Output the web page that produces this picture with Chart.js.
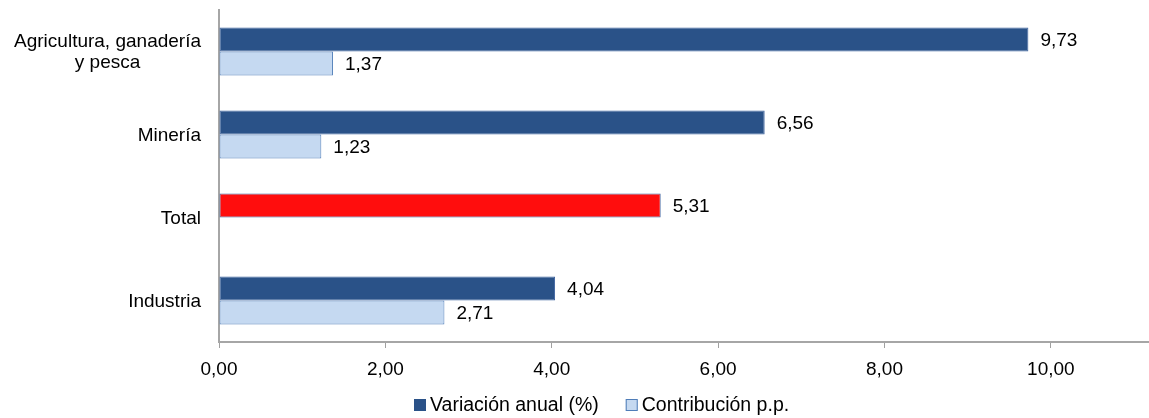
<!DOCTYPE html>
<html>
<head>
<meta charset="utf-8">
<script src="https://cdn.jsdelivr.net/npm/chart.js@4.4.0/dist/chart.umd.min.js"></script>
<style>
  html, body { margin: 0; padding: 0; background: #fff; }
  #wrap { width: 1149px; height: 418px; }
</style>
</head>
<body>
<div id="wrap"><canvas id="grafico"></canvas></div>
<script>
// datos del gráfico
const categorias = [['Agricultura, ganadería', 'y pesca'], 'Minería', 'Total', 'Industria'];
const variacionAnual = [9.73, 6.56, 5.31, 4.04];
const contribucion = [1.37, 1.23, null, 2.71];
const ticksX = [0, 2, 4, 6, 8, 10];

const fuente = "'Liberation Sans', Arial, sans-serif";
const formato = v => v.toFixed(2).replace('.', ',');

const azulOscuro = '#2A5288';
const azulClaro = '#C5D9F1';

// colores de la serie de variación (Total en rojo)
const coloresVariacion = categorias.map((c, i) => i === 2 ? '#FF0D0D' : azulOscuro);

// etiquetas del eje Y, valores al final de cada barra y leyenda
const etiquetasPlugin = {
    id: 'etiquetas',
    afterDatasetsDraw(chart) {
        const ctx = chart.ctx;
        ctx.save();
        ctx.font = '19px ' + fuente;
        ctx.fillStyle = '#000';
        ctx.textBaseline = 'middle';

        // valores
        chart.data.datasets.forEach((ds, i) => {
            chart.getDatasetMeta(i).data.forEach((bar, j) => {
                const v = ds.data[j];
                if (v === null) return;
                ctx.textAlign = 'left';
                ctx.fillText(formato(v), bar.x + 12, bar.y + 1);
            });
        });

        // categorias
        const y = chart.scales.y;
        const xDerecha = y.right - 18;
        categorias.forEach((c, i) => {
            const lineas = Array.isArray(c) ? c : [c];
            const yc = y.getPixelForTick(i) + 1;
            const alto = 21;
            const ancho = Math.max(...lineas.map(l => ctx.measureText(l).width));
            lineas.forEach((l, k) => {
                const yl = yc + (k - (lineas.length - 1) / 2) * alto;
                ctx.textAlign = 'center';
                ctx.fillText(l, xDerecha - ancho / 2, yl);
            });
        });

        // leyenda
        ctx.font = '19.5px ' + fuente;
        ctx.textAlign = 'left';
        const yLeyenda = 405;
        let x = 414;
        chart.data.datasets.forEach((ds, i) => {
            ctx.fillStyle = i === 0 ? azulOscuro : azulClaro;
            ctx.fillRect(x, yLeyenda - 6, 12, 12);
            ctx.strokeStyle = i === 0 ? azulOscuro : '#4F7DB8';
            ctx.lineWidth = 1;
            ctx.strokeRect(x + 0.5, yLeyenda - 5.5, 11, 11);
            ctx.fillStyle = '#000';
            ctx.fillText(ds.label, x + 16, yLeyenda + 1);
            x += 16 + ctx.measureText(ds.label).width + 27;
        });
        ctx.restore();
    }
};

new Chart(document.getElementById('grafico').getContext('2d'), {
    type: 'bar',
    data: {
        labels: categorias,
        datasets: [{
            label: 'Variación anual (%)',
            data: variacionAnual,
            backgroundColor: coloresVariacion,
            borderColor: '#3F64A0',
            borderWidth: 1,
            borderSkipped: false,
            categoryPercentage: 0.58,
            barPercentage: 1
        }, {
            label: 'Contribución p.p.',
            data: contribucion,
            backgroundColor: azulClaro,
            borderColor: '#4F7DB8',
            borderWidth: 1,
            borderSkipped: false,
            categoryPercentage: 0.58,
            barPercentage: 1
        }]
    },
    options: {
        indexAxis: 'y',
        responsive: true,
        maintainAspectRatio: false,
        animation: false,
        layout: { padding: { top: 10, right: 0, left: 0, bottom: 35 } },
        scales: {
            x: {
                min: 0,
                max: 11.18,
                afterBuildTicks: axis => { axis.ticks = ticksX.map(v => ({ value: v })); },
                afterFit: s => { s.height = 41; },
                grid: {
                    drawOnChartArea: false,
                    drawTicks: true,
                    tickLength: 6,
                    color: '#A0A0A0'
                },
                border: { color: '#A6A6A6', width: 2 },
                ticks: {
                    color: '#000',
                    font: { family: fuente, size: 19 },
                    padding: 10,
                    maxRotation: 0,
                    callback: v => formato(v)
                }
            },
            y: {
                afterFit: s => { s.width = 219; },
                grid: { display: false },
                border: { color: '#A6A6A6', width: 2 },
                ticks: { display: false }
            }
        },
        plugins: {
            legend: { display: false },
            tooltip: { enabled: false }
        }
    },
    plugins: [etiquetasPlugin]
});
</script>
</body>
</html>
